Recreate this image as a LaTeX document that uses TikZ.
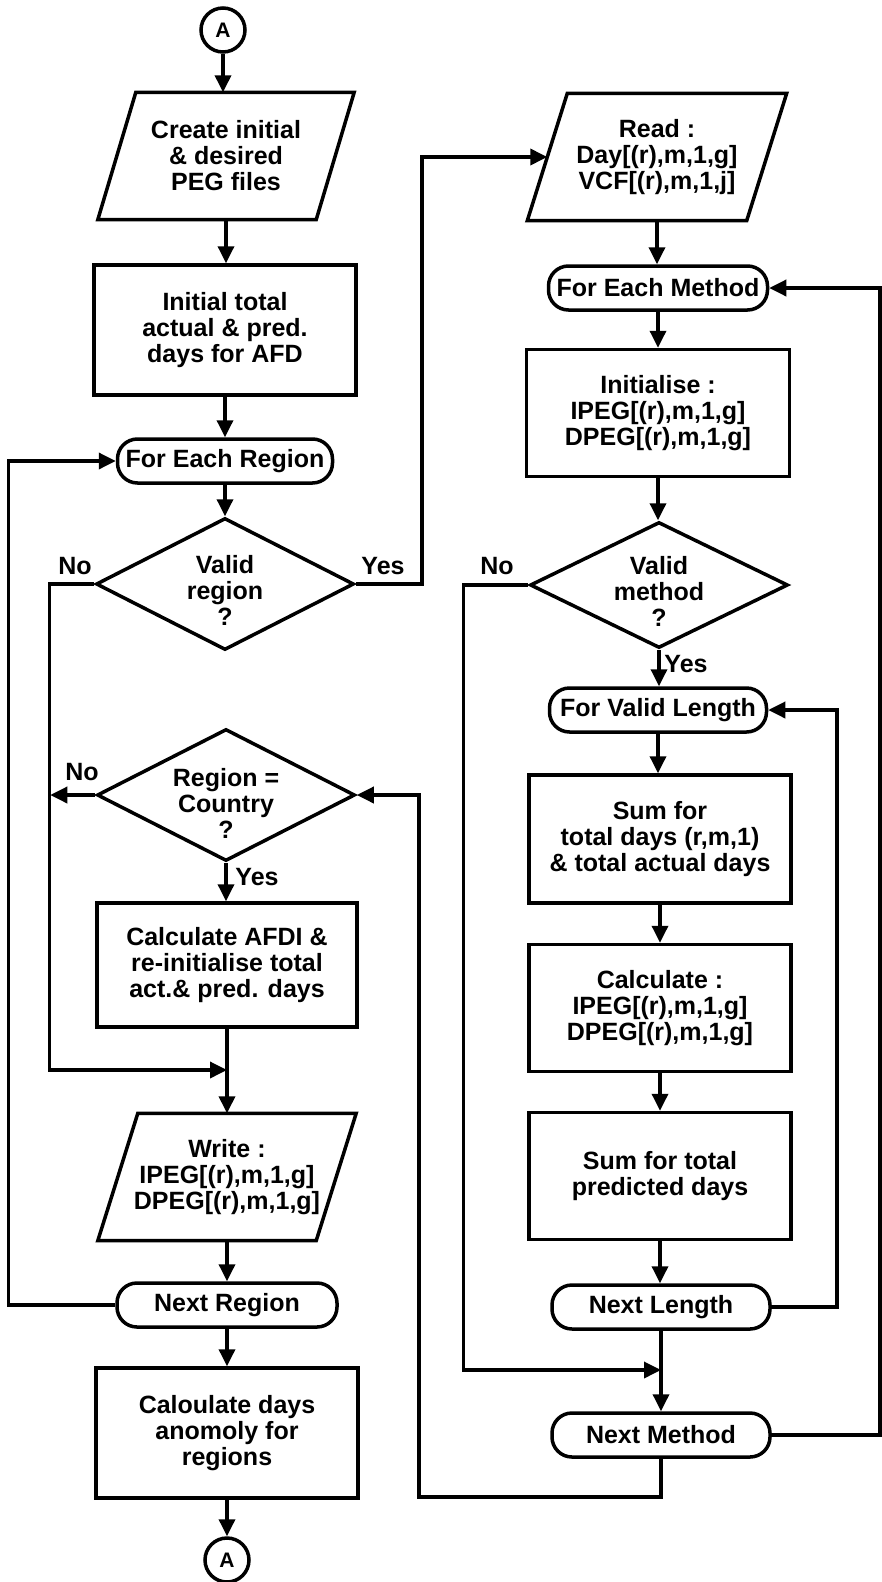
\documentclass[tikz,border=0pt]{standalone}
\usepackage{fontspec}
\setmainfont{Liberation Sans}
\usetikzlibrary{shapes.geometric,arrows.meta}
\newcommand\drawio[2]{\draw[ln] ([xshift=#2]#1.north west) -- ([xshift=#2]#1.north east) -- ([xshift=-#2]#1.south east) -- ([xshift=-#2]#1.south west) -- cycle;}
\tikzset{
  every node/.style={font=\bfseries\fontsize{25}{26}\selectfont, align=center, inner sep=0pt},
  ln/.style={line width=3.5pt},
  arr/.style={ln, -{Triangle[length=17pt,width=16pt]}},
  proc/.style={draw, ln, minimum width=262, minimum height=128},
  term/.style={draw, ln, rounded corners=20pt, minimum width=218, minimum height=44},
  io/.style={minimum width=218, minimum height=127},
  dec/.style={draw, ln, diamond, aspect=2, minimum width=258, minimum height=132},
  conn/.style={draw, ln, circle, minimum size=44, font=\bfseries\fontsize{21}{21}\selectfont},
  txt/.style={},
  lbl/.style={}
}
\begin{document}
\begin{tikzpicture}[x=1pt,y=-1pt]
\fill[white] (0,0) rectangle (881,1582);
\useasboundingbox (0,0) rectangle (881,1582);

% left column
\node[conn] (a1) at (223,30) {A};
\node[io] (create) at (226,156) {Create initial\\\& desired\\PEG files};
\drawio{create}{19}
\node[proc, minimum height=130] (init) at (225,330) {Initial total\\actual \& pred.\\days for AFD};
\node[term, minimum width=215] (fr) at (225,461) {For Each Region};
\node[dec] (vr) at (225,584) {};
\node[txt] (vrt) at (225,590) {Valid\\region\\?};
\node[dec] (rc) at (226,795) {};
\node[txt] (rct) at (226,803) {Region =\\Country\\?};
\node[proc, minimum width=260, minimum height=124] (afd) at (227,965) {Calculate AFDI \&\\re-initialise total\\act.\& pred. days};
\coordinate (mL) at (227,1070);
\node[io] (write) at (227,1177) {Write :\\IPEG[(r),m,1,g]\\DPEG[(r),m,1,g]};
\drawio{write}{20}
\node[term, minimum width=220] (nr) at (227,1305) {Next Region};
\node[proc, minimum height=130] (days) at (227,1433) {Caloulate days\\anomoly for\\regions};
\node[conn] (a2) at (227,1560) {A};

% right column
\node[io, minimum width=219] (read) at (657,157) {Read :\\Day[(r),m,1,g]\\VCF[(r),m,1,j]};
\drawio{read}{20}
\node[term, minimum width=219] (fm) at (658,288) {For Each Method};
\node[proc, minimum width=263, minimum height=127] (ini) at (658,413) {Initialise :\\IPEG[(r),m,1,g]\\DPEG[(r),m,1,g]};
\node[dec, minimum height=126] (vm) at (659,585) {};
\node[txt] (vmt) at (659,591) {Valid\\method\\?};
\node[term, minimum width=217] (fl) at (658,710) {For Valid Length};
\node[proc] (sum) at (660,839) {Sum for\\total days (r,m,1)\\\& total actual days};
\node[proc, minimum height=127] (calc) at (660,1008) {Calculate :\\IPEG[(r),m,1,g]\\DPEG[(r),m,1,g]};
\node[proc, minimum height=127] (pred) at (660,1176) {Sum for total\\predicted days};
\node[term] (nl) at (661,1307) {Next Length};
\coordinate (mR) at (661,1370);
\node[term] (nm) at (661,1435) {Next Method};
\coordinate (rcX) at (419,1497);

% labels
\node[lbl] (no1) at (75,566) {No};
\node[lbl] (yes1) at (383,566) {Yes};
\node[lbl] (no2) at (82,772) {No};
\node[lbl] (yes2) at (257,877) {Yes};
\node[lbl] (no3) at (497,566) {No};
\node[lbl] (yes3) at (686,664) {Yes};

% vertical flow left
\draw[arr] (a1.south) -- (a1.south |- create.north);
\draw[arr] (create.south) -- (create.south |- init.north);
\draw[arr] (init.south) -- (init.south |- fr.north);
\draw[arr] (fr.south) -- (fr.south |- vr.north);
\draw[arr] (rc.south) -- (rc.south |- afd.north);
\draw[arr] (afd.south) -- (afd.south |- write.north);
\draw[arr] (write.south) -- (write.south |- nr.north);
\draw[arr] (nr.south) -- (nr.south |- days.north);
\draw[arr] (days.south) -- (days.south |- a2.north);

% vertical flow right
\draw[arr] (read.south) -- (read.south |- fm.north);
\draw[arr] (fm.south) -- (fm.south |- ini.north);
\draw[arr] (ini.south) -- (ini.south |- vm.north);
\draw[arr] (vm.south) -- (vm.south |- fl.north);
\draw[arr] (fl.south) -- (fl.south |- sum.north);
\draw[arr] (sum.south) -- (sum.south |- calc.north);
\draw[arr] (calc.south) -- (calc.south |- pred.north);
\draw[arr] (pred.south) -- (pred.south |- nl.north);
\draw[arr] (nl.south) -- (nl.south |- nm.north);

% loops and branches
\draw[arr] (nr.west) -- ++(-107,0) |- (fr.west);
\draw[arr] (vr.west) -- ++(-45,0) |- (mL);
\draw[arr] (rc.west) -- ++(-45,0);
\draw[arr] (vr.east) -- ++(66,0) |- (read.west);
\draw[arr] (nm.south) |- (rcX) |- (rc.east);
\draw[arr] (vm.west) -- ++(-65,0) |- (mR);
\draw[arr] (nl.east) -- ++(65,0) |- (fl.east);
\draw[arr] (nm.east) -- ++(108,0) |- (fm.east);
\end{tikzpicture}
\end{document}
